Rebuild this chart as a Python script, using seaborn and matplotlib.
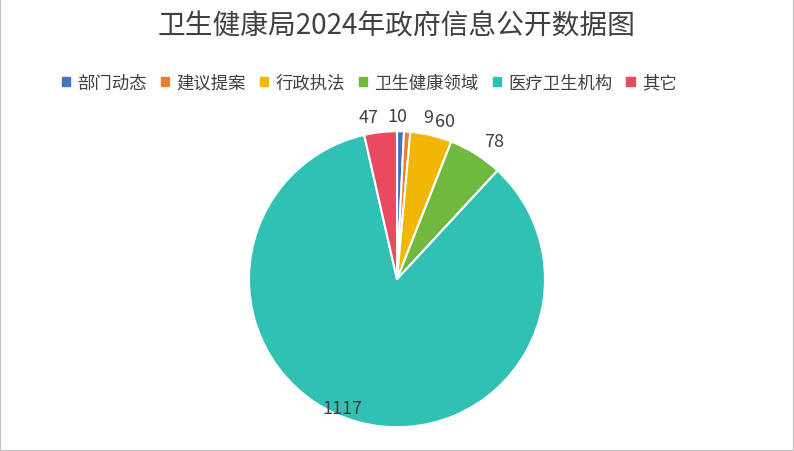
import matplotlib
matplotlib.use("Agg")
import matplotlib.pyplot as plt
import seaborn as sns
import numpy as np

sns.set_theme(style="white")
plt.rcParams['font.family'] = ['Noto Sans CJK SC', 'DejaVu Sans']

categories = ["部门动态", "建议提案", "行政执法", "卫生健康领域", "医疗卫生机构", "其它"]
values = [10, 9, 60, 78, 1117, 47]
colors = ["#4472C4", "#ED7D31", "#F2B705", "#70B93F", "#30C0B4", "#E84A5F"]

fig = plt.figure(figsize=(7.94, 4.52), dpi=100)
fig.patches.append(plt.Rectangle((0, 0), 1, 1, transform=fig.transFigure,
                                 fill=False, edgecolor="#BFBFBF", linewidth=1.5))
ax = fig.add_axes([0.5 - 148/794, 0.38 - 148/452, 296/794, 296/452])
wedges, texts = ax.pie(values, labels=[str(v) for v in values], colors=colors,
                       startangle=90, counterclock=False, labeldistance=1.1,
                       wedgeprops=dict(edgecolor="white", linewidth=1.5),
                       textprops=dict(fontsize=13, color="#404040"))
x, y = texts[4].get_position()
texts[4].set_position((x * 0.82, y * 0.82))
x, y = texts[0].get_position()
texts[0].set_position((x - 0.09, y))
x, y = texts[1].get_position()
texts[1].set_position((x + 0.1, y))
ax.set_xlim(-1, 1)
ax.set_ylim(-1, 1)
ax.set_aspect("equal")

fig.suptitle("卫生健康局2024年政府信息公开数据图", fontsize=20, color="#404040", y=0.975)
handles = [plt.Rectangle((0, 0), 1, 1, color=c) for c in colors]
fig.legend(handles, categories, loc="center", bbox_to_anchor=(0.465, 0.815), ncol=6,
           frameon=False, fontsize=12.5, handlelength=0.5, handleheight=0.5,
           handletextpad=0.4, columnspacing=0.8, labelcolor="#404040")
fig.savefig("out.png", dpi=100)
